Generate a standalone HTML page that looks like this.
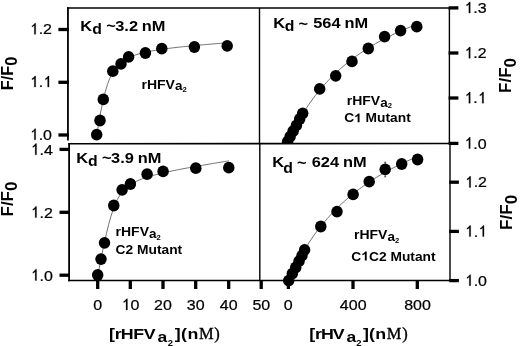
<!DOCTYPE html>
<html><head><meta charset="utf-8"><style>
html,body{margin:0;padding:0;background:#fff;}
svg{display:block;will-change:transform;transform:translateZ(0);filter:blur(0.35px);font-family:"Liberation Sans",sans-serif;}
.b{font-weight:bold;}
</style></head><body>
<svg width="520" height="346" viewBox="0 0 520 346">
<rect width="520" height="346" fill="#fff"/>
<defs><clipPath id="ct"><rect x="60" y="0" width="400" height="143.4"/></clipPath></defs>
<g clip-path="url(#ct)">
<path d="M96.60 136.02 L98.78 122.78 L100.95 110.84 L103.13 100.43 L105.31 91.64 L107.48 84.43 L109.66 78.62 L111.84 73.99 L114.01 70.28 L116.19 67.29 L118.37 64.86 L120.54 62.84 L122.72 61.15 L124.90 59.72 L127.07 58.48 L129.25 57.41 L131.43 56.46 L133.60 55.62 L135.78 54.87 L137.96 54.19 L140.13 53.57 L142.31 53.00 L144.49 52.48 L146.66 51.99 L148.84 51.54 L151.02 51.11 L153.19 50.71 L155.37 50.34 L157.55 49.98 L159.72 49.64 L161.90 49.31 L164.08 49.00 L166.25 48.70 L168.43 48.42 L170.61 48.14 L172.78 47.87 L174.96 47.61 L177.14 47.36 L179.31 47.12 L181.49 46.88 L183.67 46.65 L185.84 46.43 L188.02 46.21 L190.20 45.99 L192.37 45.78 L194.55 45.57 L196.73 45.37 L198.90 45.17 L201.08 44.97 L203.26 44.78 L205.43 44.59 L207.61 44.40 L209.79 44.21 L211.96 44.03 L214.14 43.85 L216.32 43.67 L218.49 43.49 L220.67 43.32 L222.85 43.15 L225.02 42.98 L227.20 42.81" fill="none" stroke="#5a5a5a" stroke-width="0.85"/>
<path d="M287.60 142.10 L289.75 137.53 L291.90 133.16 L294.06 128.97 L296.21 124.97 L298.36 121.13 L300.51 117.44 L302.66 113.90 L304.81 110.50 L306.97 107.23 L309.12 104.09 L311.27 101.05 L313.42 98.13 L315.57 95.31 L317.72 92.59 L319.88 89.97 L322.03 87.43 L324.18 84.97 L326.33 82.60 L328.48 80.30 L330.63 78.08 L332.79 75.92 L334.94 73.83 L337.09 71.80 L339.24 69.84 L341.39 67.93 L343.54 66.07 L345.69 64.27 L347.85 62.52 L350.00 60.82 L352.15 59.16 L354.30 57.55 L356.45 55.98 L358.61 54.45 L360.76 52.96 L362.91 51.51 L365.06 50.10 L367.21 48.72 L369.36 47.38 L371.51 46.07 L373.67 44.78 L375.82 43.53 L377.97 42.31 L380.12 41.12 L382.27 39.96 L384.43 38.82 L386.58 37.70 L388.73 36.62 L390.88 35.55 L393.03 34.51 L395.18 33.49 L397.33 32.49 L399.49 31.52 L401.64 30.56 L403.79 29.62 L405.94 28.70 L408.09 27.80 L410.25 26.92 L412.40 26.06 L414.55 25.21 L416.70 24.38" fill="none" stroke="#5a5a5a" stroke-width="0.85"/>
<g fill="#000"><ellipse cx="96.7" cy="134.7" rx="5.75" ry="5.90"/><ellipse cx="100.0" cy="120.5" rx="5.75" ry="5.90"/><ellipse cx="103.3" cy="99.4" rx="5.75" ry="5.90"/><ellipse cx="112.8" cy="71.2" rx="5.75" ry="5.90"/><ellipse cx="121.0" cy="63.9" rx="5.75" ry="5.90"/><ellipse cx="128.6" cy="56.9" rx="5.75" ry="5.90"/><ellipse cx="145.4" cy="53.0" rx="5.75" ry="5.90"/><ellipse cx="161.8" cy="48.7" rx="5.75" ry="5.90"/><ellipse cx="194.4" cy="47.0" rx="5.75" ry="5.90"/><ellipse cx="227.2" cy="45.9" rx="5.75" ry="5.90"/><ellipse cx="287.6" cy="141.7" rx="5.75" ry="5.90"/><ellipse cx="290.1" cy="136.7" rx="5.75" ry="5.90"/><ellipse cx="293.1" cy="131.2" rx="5.75" ry="5.90"/><ellipse cx="296.4" cy="125.4" rx="5.75" ry="5.90"/><ellipse cx="299.7" cy="119.0" rx="5.75" ry="5.90"/><ellipse cx="302.7" cy="113.3" rx="5.75" ry="5.90"/><ellipse cx="319.7" cy="88.9" rx="5.75" ry="5.90"/><ellipse cx="335.7" cy="75.8" rx="5.75" ry="5.90"/><ellipse cx="352.0" cy="61.4" rx="5.75" ry="5.90"/><ellipse cx="368.3" cy="48.5" rx="5.75" ry="5.90"/><ellipse cx="384.6" cy="36.6" rx="5.75" ry="5.90"/><ellipse cx="400.6" cy="30.6" rx="5.75" ry="5.90"/><ellipse cx="416.8" cy="26.7" rx="5.75" ry="5.90"/></g>
</g>
<path d="M97.70 276.05 L99.89 264.66 L102.07 253.69 L104.26 243.26 L106.44 233.52 L108.62 224.62 L110.81 216.73 L113.00 209.93 L115.18 204.22 L117.37 199.53 L119.55 195.70 L121.74 192.58 L123.92 190.02 L126.11 187.89 L128.29 186.09 L130.48 184.55 L132.66 183.21 L134.84 182.02 L137.03 180.97 L139.22 180.01 L141.40 179.14 L143.59 178.34 L145.77 177.59 L147.96 176.89 L150.14 176.23 L152.33 175.61 L154.51 175.02 L156.70 174.45 L158.88 173.90 L161.06 173.37 L163.25 172.86 L165.44 172.37 L167.62 171.89 L169.81 171.42 L171.99 170.96 L174.18 170.51 L176.36 170.07 L178.55 169.64 L180.73 169.22 L182.92 168.80 L185.10 168.39 L187.29 167.98 L189.47 167.58 L191.66 167.18 L193.84 166.79 L196.03 166.40 L198.21 166.01 L200.40 165.63 L202.58 165.25 L204.77 164.88 L206.95 164.50 L209.14 164.13 L211.32 163.77 L213.51 163.40 L215.69 163.04 L217.88 162.67 L220.06 162.31 L222.25 161.95 L224.43 161.60 L226.62 161.24 L228.80 160.89" fill="none" stroke="#5a5a5a" stroke-width="0.85"/>
<path d="M288.40 280.33 L290.55 275.66 L292.70 271.19 L294.85 266.90 L297.01 262.78 L299.16 258.83 L301.31 255.03 L303.46 251.37 L305.61 247.85 L307.76 244.46 L309.92 241.19 L312.07 238.04 L314.22 234.99 L316.37 232.05 L318.52 229.21 L320.67 226.46 L322.83 223.80 L324.98 221.23 L327.13 218.74 L329.28 216.32 L331.43 213.98 L333.58 211.71 L335.74 209.50 L337.89 207.36 L340.04 205.28 L342.19 203.26 L344.34 201.30 L346.50 199.39 L348.65 197.53 L350.80 195.72 L352.95 193.96 L355.10 192.24 L357.25 190.57 L359.40 188.95 L361.56 187.36 L363.71 185.81 L365.86 184.30 L368.01 182.83 L370.16 181.39 L372.31 179.99 L374.47 178.62 L376.62 177.28 L378.77 175.97 L380.92 174.69 L383.07 173.44 L385.23 172.21 L387.38 171.02 L389.53 169.85 L391.68 168.70 L393.83 167.58 L395.98 166.48 L398.13 165.40 L400.29 164.35 L402.44 163.32 L404.59 162.31 L406.74 161.32 L408.89 160.35 L411.05 159.39 L413.20 158.46 L415.35 157.54 L417.50 156.64" fill="none" stroke="#5a5a5a" stroke-width="0.85"/>
<path d="M385.2 162V177M384.2 162.2h2M384.2 176.8h2" stroke="#333" stroke-width="0.8" fill="none"/>
<g fill="#000"><ellipse cx="97.7" cy="275.0" rx="5.75" ry="5.90"/><ellipse cx="101.0" cy="259.1" rx="5.75" ry="5.90"/><ellipse cx="104.5" cy="242.8" rx="5.75" ry="5.90"/><ellipse cx="113.8" cy="205.5" rx="5.75" ry="5.90"/><ellipse cx="122.1" cy="189.8" rx="5.75" ry="5.90"/><ellipse cx="130.4" cy="184.0" rx="5.75" ry="5.90"/><ellipse cx="147.1" cy="174.2" rx="5.75" ry="5.90"/><ellipse cx="163.1" cy="171.4" rx="5.75" ry="5.90"/><ellipse cx="195.8" cy="168.2" rx="5.75" ry="5.90"/><ellipse cx="228.8" cy="167.7" rx="5.75" ry="5.90"/><ellipse cx="288.7" cy="280.6" rx="5.75" ry="5.90"/><ellipse cx="292.3" cy="273.7" rx="5.75" ry="5.90"/><ellipse cx="295.7" cy="267.5" rx="5.75" ry="5.90"/><ellipse cx="299.0" cy="261.2" rx="5.75" ry="5.90"/><ellipse cx="302.0" cy="255.7" rx="5.75" ry="5.90"/><ellipse cx="304.6" cy="249.9" rx="5.75" ry="5.90"/><ellipse cx="320.8" cy="226.5" rx="5.75" ry="5.90"/><ellipse cx="337.0" cy="211.6" rx="5.75" ry="5.90"/><ellipse cx="353.1" cy="194.4" rx="5.75" ry="5.90"/><ellipse cx="369.2" cy="181.6" rx="5.75" ry="5.90"/><ellipse cx="385.2" cy="169.3" rx="5.75" ry="5.90"/><ellipse cx="401.7" cy="164.0" rx="5.75" ry="5.90"/><ellipse cx="417.6" cy="159.5" rx="5.75" ry="5.90"/></g>
<g stroke="#000" fill="none">
<line x1="67.95" y1="7.3" x2="67.95" y2="140.6" stroke-width="1.8"/>
<line x1="69.1" y1="143.2" x2="69.1" y2="281.3" stroke-width="1.8"/>
<line x1="67" y1="8" x2="450.1" y2="8" stroke-width="1.6"/>
<line x1="68.2" y1="143.8" x2="450.7" y2="143.5" stroke-width="1.6"/>
<line x1="68.2" y1="280.6" x2="450.7" y2="280.6" stroke-width="1.5"/>
<line x1="259.5" y1="8" x2="259.5" y2="143.5" stroke-width="1.4"/>
<line x1="259.8" y1="143.5" x2="259.8" y2="280.6" stroke-width="1.4"/>
<line x1="449.4" y1="8" x2="449.4" y2="143.5" stroke-width="1.4"/>
<line x1="450.0" y1="143.5" x2="450.0" y2="280.6" stroke-width="1.4"/>
</g>
<g stroke="#000" stroke-width="3.3" stroke-linejoin="round">
<line x1="58.4" y1="29.5" x2="68.8" y2="29.5"/><line x1="58.4" y1="82.3" x2="68.8" y2="82.3"/><line x1="58.4" y1="135.0" x2="68.8" y2="135.0"/>
<line x1="59.5" y1="149.4" x2="69.9" y2="149.4"/><line x1="59.5" y1="212.3" x2="69.9" y2="212.3"/><line x1="59.5" y1="275.2" x2="69.9" y2="275.2"/>
<line x1="448.6" y1="7.9" x2="458.4" y2="7.9"/><line x1="448.6" y1="53.0" x2="458.4" y2="53.0"/><line x1="448.6" y1="98.0" x2="458.4" y2="98.0"/><line x1="448.6" y1="143.4" x2="458.4" y2="143.4"/>
<line x1="449.2" y1="182.2" x2="458.9" y2="182.2"/><line x1="449.2" y1="231.4" x2="458.9" y2="231.4"/><line x1="449.2" y1="280.6" x2="458.9" y2="280.6"/>
<line x1="97.7" y1="281.0" x2="97.7" y2="289.0"/><line x1="130.3" y1="281.0" x2="130.3" y2="289.0"/><line x1="163.0" y1="281.0" x2="163.0" y2="289.0"/><line x1="195.7" y1="281.0" x2="195.7" y2="289.0"/><line x1="228.7" y1="281.0" x2="228.7" y2="289.0"/><line x1="261.2" y1="281.0" x2="261.2" y2="289.0"/><line x1="288.4" y1="281.0" x2="288.4" y2="289.0"/><line x1="353.0" y1="281.0" x2="353.0" y2="289.0"/><line x1="417.3" y1="281.0" x2="417.3" y2="289.0"/>
</g>
<g fill="#000" stroke="#000" stroke-width="0.25">
<path d="M760 0H582V1145C510 1080 400 1010 285 960V1125C430 1195 570 1320 645 1470H760Z" transform="translate(29.76,34.30) scale(0.00781,-0.00758)" vector-effect="non-scaling-stroke"/><text transform="translate(38.66,34.30) scale(1.000,0.970)" font-size="16.00" text-anchor="start" >.</text><text transform="translate(43.11,34.30) scale(1.000,0.970)" font-size="16.00" text-anchor="start" >2</text><path d="M760 0H582V1145C510 1080 400 1010 285 960V1125C430 1195 570 1320 645 1470H760Z" transform="translate(29.76,87.10) scale(0.00781,-0.00758)" vector-effect="non-scaling-stroke"/><text transform="translate(38.66,87.10) scale(1.000,0.970)" font-size="16.00" text-anchor="start" >.</text><path d="M760 0H582V1145C510 1080 400 1010 285 960V1125C430 1195 570 1320 645 1470H760Z" transform="translate(43.11,87.10) scale(0.00781,-0.00758)" vector-effect="non-scaling-stroke"/><path d="M760 0H582V1145C510 1080 400 1010 285 960V1125C430 1195 570 1320 645 1470H760Z" transform="translate(29.76,139.80) scale(0.00781,-0.00758)" vector-effect="non-scaling-stroke"/><text transform="translate(38.66,139.80) scale(1.000,0.970)" font-size="16.00" text-anchor="start" >.</text><text transform="translate(43.11,139.80) scale(1.000,0.970)" font-size="16.00" text-anchor="start" >0</text>
<path d="M760 0H582V1145C510 1080 400 1010 285 960V1125C430 1195 570 1320 645 1470H760Z" transform="translate(30.63,154.70) scale(0.00781,-0.00758)" vector-effect="non-scaling-stroke"/><text transform="translate(39.52,154.70) scale(1.000,0.970)" font-size="16.00" text-anchor="start" >.</text><text transform="translate(43.97,154.70) scale(1.000,0.970)" font-size="16.00" text-anchor="start" >4</text><path d="M760 0H582V1145C510 1080 400 1010 285 960V1125C430 1195 570 1320 645 1470H760Z" transform="translate(30.63,217.60) scale(0.00781,-0.00758)" vector-effect="non-scaling-stroke"/><text transform="translate(39.52,217.60) scale(1.000,0.970)" font-size="16.00" text-anchor="start" >.</text><text transform="translate(43.97,217.60) scale(1.000,0.970)" font-size="16.00" text-anchor="start" >2</text><path d="M760 0H582V1145C510 1080 400 1010 285 960V1125C430 1195 570 1320 645 1470H760Z" transform="translate(30.63,280.50) scale(0.00781,-0.00758)" vector-effect="non-scaling-stroke"/><text transform="translate(39.52,280.50) scale(1.000,0.970)" font-size="16.00" text-anchor="start" >.</text><text transform="translate(43.97,280.50) scale(1.000,0.970)" font-size="16.00" text-anchor="start" >0</text>
<path d="M760 0H582V1145C510 1080 400 1010 285 960V1125C430 1195 570 1320 645 1470H760Z" transform="translate(464.30,13.10) scale(0.00781,-0.00758)" vector-effect="non-scaling-stroke"/><text transform="translate(473.20,13.10) scale(1.000,0.970)" font-size="16.00" text-anchor="start" >.</text><text transform="translate(477.64,13.10) scale(1.000,0.970)" font-size="16.00" text-anchor="start" >3</text><path d="M760 0H582V1145C510 1080 400 1010 285 960V1125C430 1195 570 1320 645 1470H760Z" transform="translate(464.30,58.20) scale(0.00781,-0.00758)" vector-effect="non-scaling-stroke"/><text transform="translate(473.20,58.20) scale(1.000,0.970)" font-size="16.00" text-anchor="start" >.</text><text transform="translate(477.64,58.20) scale(1.000,0.970)" font-size="16.00" text-anchor="start" >2</text><path d="M760 0H582V1145C510 1080 400 1010 285 960V1125C430 1195 570 1320 645 1470H760Z" transform="translate(464.30,103.20) scale(0.00781,-0.00758)" vector-effect="non-scaling-stroke"/><text transform="translate(473.20,103.20) scale(1.000,0.970)" font-size="16.00" text-anchor="start" >.</text><path d="M760 0H582V1145C510 1080 400 1010 285 960V1125C430 1195 570 1320 645 1470H760Z" transform="translate(477.64,103.20) scale(0.00781,-0.00758)" vector-effect="non-scaling-stroke"/><path d="M760 0H582V1145C510 1080 400 1010 285 960V1125C430 1195 570 1320 645 1470H760Z" transform="translate(464.30,148.50) scale(0.00781,-0.00758)" vector-effect="non-scaling-stroke"/><text transform="translate(473.20,148.50) scale(1.000,0.970)" font-size="16.00" text-anchor="start" >.</text><text transform="translate(477.64,148.50) scale(1.000,0.970)" font-size="16.00" text-anchor="start" >0</text>
<path d="M760 0H582V1145C510 1080 400 1010 285 960V1125C430 1195 570 1320 645 1470H760Z" transform="translate(464.75,187.40) scale(0.00781,-0.00758)" vector-effect="non-scaling-stroke"/><text transform="translate(473.65,187.40) scale(1.000,0.970)" font-size="16.00" text-anchor="start" >.</text><text transform="translate(478.09,187.40) scale(1.000,0.970)" font-size="16.00" text-anchor="start" >2</text><path d="M760 0H582V1145C510 1080 400 1010 285 960V1125C430 1195 570 1320 645 1470H760Z" transform="translate(464.75,236.60) scale(0.00781,-0.00758)" vector-effect="non-scaling-stroke"/><text transform="translate(473.65,236.60) scale(1.000,0.970)" font-size="16.00" text-anchor="start" >.</text><path d="M760 0H582V1145C510 1080 400 1010 285 960V1125C430 1195 570 1320 645 1470H760Z" transform="translate(478.09,236.60) scale(0.00781,-0.00758)" vector-effect="non-scaling-stroke"/><path d="M760 0H582V1145C510 1080 400 1010 285 960V1125C430 1195 570 1320 645 1470H760Z" transform="translate(464.75,285.80) scale(0.00781,-0.00758)" vector-effect="non-scaling-stroke"/><text transform="translate(473.65,285.80) scale(1.000,0.970)" font-size="16.00" text-anchor="start" >.</text><text transform="translate(478.09,285.80) scale(1.000,0.970)" font-size="16.00" text-anchor="start" >0</text>
<text transform="translate(93.35,309.90) scale(1.000,0.970)" font-size="16.00" text-anchor="start" >0</text><path d="M760 0H582V1145C510 1080 400 1010 285 960V1125C430 1195 570 1320 645 1470H760Z" transform="translate(121.50,309.90) scale(0.00781,-0.00758)" vector-effect="non-scaling-stroke"/><text transform="translate(130.40,309.90) scale(1.000,0.970)" font-size="16.00" text-anchor="start" >0</text><text transform="translate(154.10,309.90) scale(1.000,0.970)" font-size="16.00" text-anchor="start" >2</text><text transform="translate(163.00,309.90) scale(1.000,0.970)" font-size="16.00" text-anchor="start" >0</text><text transform="translate(186.80,309.90) scale(1.000,0.970)" font-size="16.00" text-anchor="start" >3</text><text transform="translate(195.70,309.90) scale(1.000,0.970)" font-size="16.00" text-anchor="start" >0</text><text transform="translate(219.80,309.90) scale(1.000,0.970)" font-size="16.00" text-anchor="start" >4</text><text transform="translate(228.70,309.90) scale(1.000,0.970)" font-size="16.00" text-anchor="start" >0</text><text transform="translate(252.40,309.90) scale(1.000,0.970)" font-size="16.00" text-anchor="start" >5</text><text transform="translate(261.30,309.90) scale(1.000,0.970)" font-size="16.00" text-anchor="start" >0</text><text transform="translate(283.85,309.90) scale(1.000,0.970)" font-size="16.00" text-anchor="start" >0</text><text transform="translate(339.86,309.90) scale(1.000,0.970)" font-size="16.00" text-anchor="start" >4</text><text transform="translate(348.75,309.90) scale(1.000,0.970)" font-size="16.00" text-anchor="start" >0</text><text transform="translate(357.65,309.90) scale(1.000,0.970)" font-size="16.00" text-anchor="start" >0</text><text transform="translate(404.16,309.90) scale(1.000,0.970)" font-size="16.00" text-anchor="start" >8</text><text transform="translate(413.05,309.90) scale(1.000,0.970)" font-size="16.00" text-anchor="start" >0</text><text transform="translate(421.95,309.90) scale(1.000,0.970)" font-size="16.00" text-anchor="start" >0</text>
</g>
<g class="b" fill="#000">
<text transform="translate(80.15,31.00) scale(1.000,0.930)" font-size="16.40" text-anchor="start" >K</text><text transform="translate(92.25,33.75) scale(1.000,0.930)" font-size="15.80" text-anchor="start" >d</text><text transform="translate(106.25,30.95) scale(1.000,0.930)" font-size="16.40" text-anchor="start" >~</text><text transform="translate(115.22,31.00) scale(1.000,0.930)" font-size="16.40" text-anchor="start" >3.2</text><text transform="translate(141.67,31.00) scale(1.000,0.930)" font-size="16.40" text-anchor="start" >nM</text>
<text transform="translate(76.15,163.10) scale(1.000,0.930)" font-size="16.40" text-anchor="start" >K</text><text transform="translate(87.95,166.00) scale(1.000,0.930)" font-size="15.80" text-anchor="start" >d</text><text transform="translate(101.95,163.45) scale(1.000,0.930)" font-size="16.40" text-anchor="start" >~</text><text transform="translate(111.07,163.10) scale(1.000,0.930)" font-size="16.40" text-anchor="start" >3.9</text><text transform="translate(137.67,163.10) scale(1.000,0.930)" font-size="16.40" text-anchor="start" >nM</text>
<text transform="translate(273.15,27.50) scale(1.000,0.930)" font-size="16.40" text-anchor="start" >K</text><text transform="translate(284.85,30.60) scale(1.000,0.930)" font-size="15.80" text-anchor="start" >d</text><text transform="translate(298.60,29.45) scale(1.000,0.930)" font-size="16.40" text-anchor="start" >~</text><text transform="translate(313.20,27.50) scale(1.000,0.930)" font-size="16.40" text-anchor="start" >564</text><text transform="translate(344.52,27.50) scale(1.000,0.930)" font-size="16.40" text-anchor="start" >nM</text>
<text transform="translate(272.15,167.25) scale(1.000,0.930)" font-size="16.40" text-anchor="start" >K</text><text transform="translate(283.35,173.15) scale(1.000,0.930)" font-size="15.80" text-anchor="start" >d</text><text transform="translate(297.10,167.55) scale(1.000,0.930)" font-size="16.40" text-anchor="start" >~</text><text transform="translate(311.70,167.25) scale(1.000,0.930)" font-size="16.40" text-anchor="start" >624</text><text transform="translate(342.92,167.25) scale(1.000,0.930)" font-size="16.40" text-anchor="start" >nM</text>
<text transform="translate(141.48,88.50) scale(1.000,0.900)" font-size="14.00" text-anchor="start" >rHFV<tspan dy="2" font-size="13.5">a</tspan><tspan dy="2.1" font-size="7.6">2</tspan></text>
<text transform="translate(346.78,104.80) scale(1.000,0.900)" font-size="14.00" text-anchor="start" >rHFV<tspan dy="2" font-size="13.5">a</tspan><tspan dy="2.1" font-size="7.6">2</tspan></text>
<text transform="translate(344.13,122.30) scale(1.000,0.900)" font-size="13.80" text-anchor="start" >C</text><path d="M806 0H525V1059C420 960 300 890 162 846V1101C330 1160 520 1310 578 1472H806Z" transform="translate(354.10,122.30) scale(0.00674,-0.00606)"/><text transform="translate(365.61,122.30) scale(1.000,0.900)" font-size="13.80" text-anchor="start" >Mutant</text>
<text transform="translate(115.58,236.30) scale(1.000,0.900)" font-size="14.00" text-anchor="start" >rHFV<tspan dy="2" font-size="13.5">a</tspan><tspan dy="2.1" font-size="7.6">2</tspan></text>
<text transform="translate(115.53,253.70) scale(1.000,0.900)" font-size="13.80" text-anchor="start" >C2</text><text transform="translate(137.01,253.70) scale(1.000,0.900)" font-size="13.80" text-anchor="start" >Mutant</text>
<text transform="translate(353.98,239.00) scale(1.000,0.900)" font-size="14.00" text-anchor="start" >rHFV<tspan dy="2" font-size="13.5">a</tspan><tspan dy="2.1" font-size="7.6">2</tspan></text>
<text transform="translate(351.33,260.50) scale(1.000,0.900)" font-size="13.80" text-anchor="start" >C</text><path d="M806 0H525V1059C420 960 300 890 162 846V1101C330 1160 520 1310 578 1472H806Z" transform="translate(361.30,260.50) scale(0.00674,-0.00606)"/><text transform="translate(368.97,260.50) scale(1.000,0.900)" font-size="13.80" text-anchor="start" >C2</text><text transform="translate(390.45,260.50) scale(1.000,0.900)" font-size="13.80" text-anchor="start" >Mutant</text>
<text transform="translate(13.00,90.20) rotate(-90) scale(1,1.000)" font-size="16.30">F/F<tspan dy="3.60">0</tspan></text>
<text transform="translate(13.00,216.40) rotate(-90) scale(1,0.970)" font-size="16.90">F/F<tspan dy="4.02">0</tspan></text>
<text transform="translate(510.80,92.90) rotate(-90) scale(1,0.970)" font-size="17.00">F/F<tspan dy="5.36">0</tspan></text>
<text transform="translate(512.10,230.00) rotate(-90) scale(1,1.000)" font-size="17.20">F/F<tspan dy="4.50">0</tspan></text>
<text transform="translate(109.00,339.00) scale(1.080,0.890)" font-size="16.50" text-anchor="start" >[</text><text transform="translate(114.83,339.00) scale(1.080,0.890)" font-size="16.50" text-anchor="start" >r</text><text transform="translate(120.71,339.00) scale(1.080,0.890)" font-size="16.50" text-anchor="start" >H</text><text transform="translate(133.21,339.00) scale(1.080,0.890)" font-size="16.50" text-anchor="start" >F</text><text transform="translate(143.63,339.00) scale(1.080,0.890)" font-size="16.50" text-anchor="start" >V</text><text transform="translate(157.59,342.30) scale(1.060,0.900)" font-size="16.50" text-anchor="start" >a</text><text transform="translate(167.77,345.60) scale(1.050,0.950)" font-size="9.00" text-anchor="start" >2</text><text transform="translate(174.78,339.00) scale(1.080,0.890)" font-size="16.50" text-anchor="start" >]</text><text transform="translate(181.01,339.00) scale(1.080,0.890)" font-size="16.50" text-anchor="start" >(</text><text transform="translate(187.58,339.00) scale(1.080,0.890)" font-size="16.50" text-anchor="start" >n</text><text transform="translate(198.93,339.00) scale(1.030,1.000)" font-size="16.00" text-anchor="start" font-family="Liberation Serif" font-weight="normal" stroke="#000" stroke-width="0.35">M</text><text transform="translate(214.22,339.00) scale(1.030,1.000)" font-size="16.00" text-anchor="start" font-family="Liberation Serif" font-weight="normal" stroke="#000" stroke-width="0.35">)</text>
<text transform="translate(309.25,339.00) scale(1.080,0.890)" font-size="16.50" text-anchor="start" >[</text><text transform="translate(315.08,339.00) scale(1.080,0.890)" font-size="16.50" text-anchor="start" >r</text><text transform="translate(320.91,339.00) scale(1.080,0.890)" font-size="16.50" text-anchor="start" >H</text><text transform="translate(332.63,339.00) scale(1.080,0.890)" font-size="16.50" text-anchor="start" >V</text><text transform="translate(346.39,342.30) scale(1.060,0.900)" font-size="16.50" text-anchor="start" >a</text><text transform="translate(356.17,345.60) scale(1.050,0.950)" font-size="9.00" text-anchor="start" >2</text><text transform="translate(362.88,339.00) scale(1.080,0.890)" font-size="16.50" text-anchor="start" >]</text><text transform="translate(369.11,339.00) scale(1.080,0.890)" font-size="16.50" text-anchor="start" >(</text><text transform="translate(375.33,339.00) scale(1.080,0.890)" font-size="16.50" text-anchor="start" >n</text><text transform="translate(386.63,339.00) scale(1.030,1.000)" font-size="16.00" text-anchor="start" font-family="Liberation Serif" font-weight="normal" stroke="#000" stroke-width="0.35">M</text><text transform="translate(402.22,339.00) scale(1.030,1.000)" font-size="16.00" text-anchor="start" font-family="Liberation Serif" font-weight="normal" stroke="#000" stroke-width="0.35">)</text>
</g>
</svg>
</body></html>
